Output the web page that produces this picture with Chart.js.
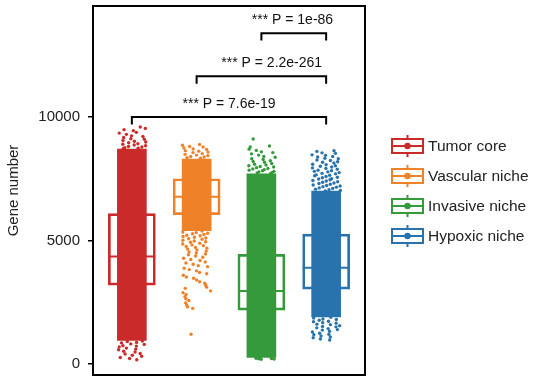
<!DOCTYPE html>
<html>
<head>
<meta charset="utf-8">
<script src="https://cdn.jsdelivr.net/npm/chart.js@4.4.1/dist/chart.umd.min.js"></script>
<style>
  html, body { margin: 0; padding: 0; background: #fff; }
  #wrap { width: 541px; height: 383px; }
</style>
</head>
<body>
<div id="wrap"><canvas id="chartGenes"></canvas></div>
<script>
// Grupos y colores
const grupos = ['Tumor core', 'Vascular niche', 'Invasive niche', 'Hypoxic niche'];
const colores = ['#cb2a2a', '#ef8228', '#359a3b', '#2873ae'];

// Cajas (cuartiles y mediana)
const q1 = [3190, 6050, 2180, 3030];
const medianas = [4350, 6770, 2950, 3900];
const q3 = [6090, 7500, 4440, 5260];

// Zona densa de puntos (de donde a donde la nube es casi solida)
const nubeMin = [950, 5400, 260, 1900];
const nubeMax = [8700, 8300, 7700, 7000];

// Puntos sueltos fuera de la zona densa
const puntosTumor = [9600, 9540, 9490, 9450, 9380, 9350, 9300, 9240, 9210, 9170, 9120, 9100, 9050, 9020, 8990, 8960, 8920, 8900, 8870, 8840, 8810, 8790, 8760, 8740, 8720,
  930, 910, 870, 850, 810, 790, 740, 720, 690, 640, 600, 570, 510, 480, 420, 400, 350, 310, 260, 220, 170];
const puntosVascular = [8890, 8860, 8810, 8790, 8750, 8710, 8690, 8640, 8620, 8580, 8560, 8520, 8490, 8460, 8430, 8400, 8380, 8350, 8330,
  5380, 5340, 5320, 5290, 5270, 5240, 5210, 5190, 5160, 5130, 5100, 5070, 5050, 5010, 4980, 4950, 4930, 4890, 4860, 4820, 4790, 4760, 4720, 4690,
  4650, 4610, 4570, 4540, 4490, 4450, 4420, 4370, 4320, 4280, 4230, 4190, 4130, 4090, 4040, 3980, 3940, 3880, 3820, 3770, 3700, 3650, 3590,
  3520, 3470, 3400, 3330, 3270, 3190, 3110, 3060, 2960, 2880, 2810, 2720, 2640, 2570, 2470, 2390, 2310, 2250, 1200];
const puntosInvasive = [9110, 8830, 8790, 8700, 8650, 8590, 8560, 8510, 8460, 8400, 8370, 8310, 8280, 8230, 8200, 8170, 8120, 8090, 8060, 8030,
  8000, 7980, 7950, 7920, 7900, 7870, 7850, 7830, 7800, 7780, 7760, 7740, 7720,
  250, 230, 220, 210, 200, 190, 240];
const puntosHypoxic = [8640, 8610, 8550, 8530, 8470, 8450, 8400, 8380, 8330, 8310, 8260, 8240, 8190, 8170, 8140, 8090, 8070, 8030, 8010, 7980,
  7940, 7920, 7890, 7850, 7830, 7800, 7780, 7750, 7720, 7700, 7660, 7640, 7620, 7590, 7560, 7540, 7500, 7490, 7460, 7430, 7410, 7380, 7360,
  7330, 7310, 7280, 7250, 7230, 7210, 7180, 7160, 7130, 7110, 7080, 7060, 7030, 7010,
  1890, 1860, 1820, 1800, 1770, 1730, 1710, 1670, 1650, 1610, 1590, 1550, 1520, 1500, 1460, 1430, 1390, 1370, 1320, 1290, 1240, 1200, 1180,
  1130, 1090, 1060, 1010, 970];
const puntosSueltos = [puntosTumor, puntosVascular, puntosInvasive, puntosHypoxic];

// Comparaciones (corchetes de significancia)
const compDesde = [0, 1, 2];
const compHasta = [3, 3, 3];
const compAltura = [10000, 11650, 13400];
const compTexto = ['*** P = 7.6e-19', '*** P = 2.2e-261', '*** P = 1e-86'];
const compTextoX = [1.5, 2.16, 2.48];

// Eje Y
const ticksY = [0, 5000, 10000];

const anchoNube = 0.44;

// Dispersión horizontal fija para los puntos sueltos (solo posicion, no datos)
function jitter(i, j, v) {
  const f = ((j + 1) * 0.6180339887 + v * 0.00731) % 1;
  return i + (f - 0.5) * anchoNube;
}

const datasets = [];

// Corchetes
compDesde.forEach((d, k) => {
  const h = compAltura[k];
  const baja = h - 300;
  datasets.push({
    type: 'scatter',
    showLine: true,
    data: [{ x: d, y: baja }, { x: d, y: h }, { x: compHasta[k], y: h }, { x: compHasta[k], y: baja }],
    borderColor: '#000',
    borderWidth: 2,
    pointRadius: 0,
    fill: false
  });
});

// Puntos sueltos
puntosSueltos.forEach((lista, i) => {
  datasets.push({
    type: 'scatter',
    data: lista.map((v, j) => ({ x: jitter(i, j, v), y: v })),
    backgroundColor: colores[i],
    borderWidth: 0,
    pointRadius: 1.7
  });
});

// Nubes densas
datasets.push({
  type: 'bar',
  data: grupos.map((g, i) => ({ x: i, y: [nubeMin[i], nubeMax[i]] })),
  backgroundColor: colores,
  borderWidth: 0,
  barThickness: 29,
  grouped: false
});

// Medianas
datasets.push({
  type: 'scatter',
  data: grupos.map((g, i) => ({ x: i, y: medianas[i] })),
  pointStyle: 'line',
  pointRadius: 23.5,
  borderColor: colores,
  borderWidth: 2
});

// Cajas
datasets.push({
  type: 'bar',
  data: grupos.map((g, i) => ({ x: i, y: [q1[i], q3[i]] })),
  backgroundColor: 'rgba(255,255,255,0)',
  borderColor: colores,
  borderWidth: 2,
  borderSkipped: false,
  barThickness: 47,
  grouped: false
});

// Marco, textos de P y leyenda
const pluginExtras = {
  id: 'extras',
  afterDraw(chart) {
    const { ctx, chartArea, scales } = chart;
    ctx.save();
    ctx.strokeStyle = '#000';
    ctx.lineWidth = 2;
    ctx.strokeRect(chartArea.left, chartArea.top, chartArea.right - chartArea.left, chartArea.bottom - chartArea.top);

    ctx.fillStyle = '#111';
    ctx.font = '14px "Liberation Sans", Arial, sans-serif';
    ctx.textAlign = 'center';
    ctx.textBaseline = 'alphabetic';
    compTexto.forEach((t, k) => {
      const x = scales.x.getPixelForValue(compTextoX[k]);
      const y = scales.y.getPixelForValue(compAltura[k]) - 9;
      ctx.fillText(t, x, y);
    });

    // Leyenda
    const lx = 392;
    const ly0 = 146;
    const paso = 30;
    ctx.font = '15.5px "Liberation Sans", Arial, sans-serif';
    ctx.textAlign = 'left';
    ctx.textBaseline = 'middle';
    grupos.forEach((g, i) => {
      const cy = ly0 + i * paso;
      const cx = lx + 15.5;
      ctx.strokeStyle = colores[i];
      ctx.lineWidth = 2;
      ctx.beginPath();
      ctx.moveTo(cx, cy - 11);
      ctx.lineTo(cx, cy + 11);
      ctx.stroke();
      ctx.fillStyle = '#fff';
      ctx.fillRect(lx, cy - 7, 31, 14);
      ctx.strokeRect(lx, cy - 7, 31, 14);
      ctx.beginPath();
      ctx.moveTo(lx, cy);
      ctx.lineTo(lx + 31, cy);
      ctx.stroke();
      ctx.fillStyle = colores[i];
      ctx.beginPath();
      ctx.arc(cx, cy, 3.2, 0, Math.PI * 2);
      ctx.fill();
      ctx.fillStyle = '#222';
      ctx.fillText(g, 428, cy + 1);
    });
    ctx.restore();
  }
};

new Chart(document.getElementById('chartGenes'), {
  type: 'scatter',
  data: { datasets: datasets },
  options: {
    responsive: true,
    maintainAspectRatio: false,
    animation: false,
    layout: { autoPadding: false, padding: { left: 0, top: 6, right: 176, bottom: 8 } },
    plugins: {
      legend: { display: false },
      tooltip: { enabled: false }
    },
    scales: {
      x: {
        type: 'linear',
        min: -0.6,
        max: 3.6,
        offset: false,
        display: false
      },
      y: {
        min: -450,
        max: 14500,
        afterFit: (scale) => {
          scale.width = 93;
          scale.paddingTop = 0;
          scale.paddingBottom = 0;
        },
        afterBuildTicks: (scale) => { scale.ticks = ticksY.map(v => ({ value: v })); },
        border: { display: false },
        grid: {
          drawOnChartArea: false,
          drawTicks: true,
          tickLength: 5,
          color: '#000',
          lineWidth: 1.5
        },
        ticks: {
          padding: 8,
          color: '#222',
          callback: (v) => String(v),
          font: { family: '"Liberation Sans", Arial, sans-serif', size: 15 }
        },
        title: {
          display: true,
          text: 'Gene number',
          color: '#222',
          padding: { top: 5 },
          font: { family: '"Liberation Sans", Arial, sans-serif', size: 15 }
        }
      }
    }
  },
  plugins: [pluginExtras]
});
</script>
</body>
</html>
